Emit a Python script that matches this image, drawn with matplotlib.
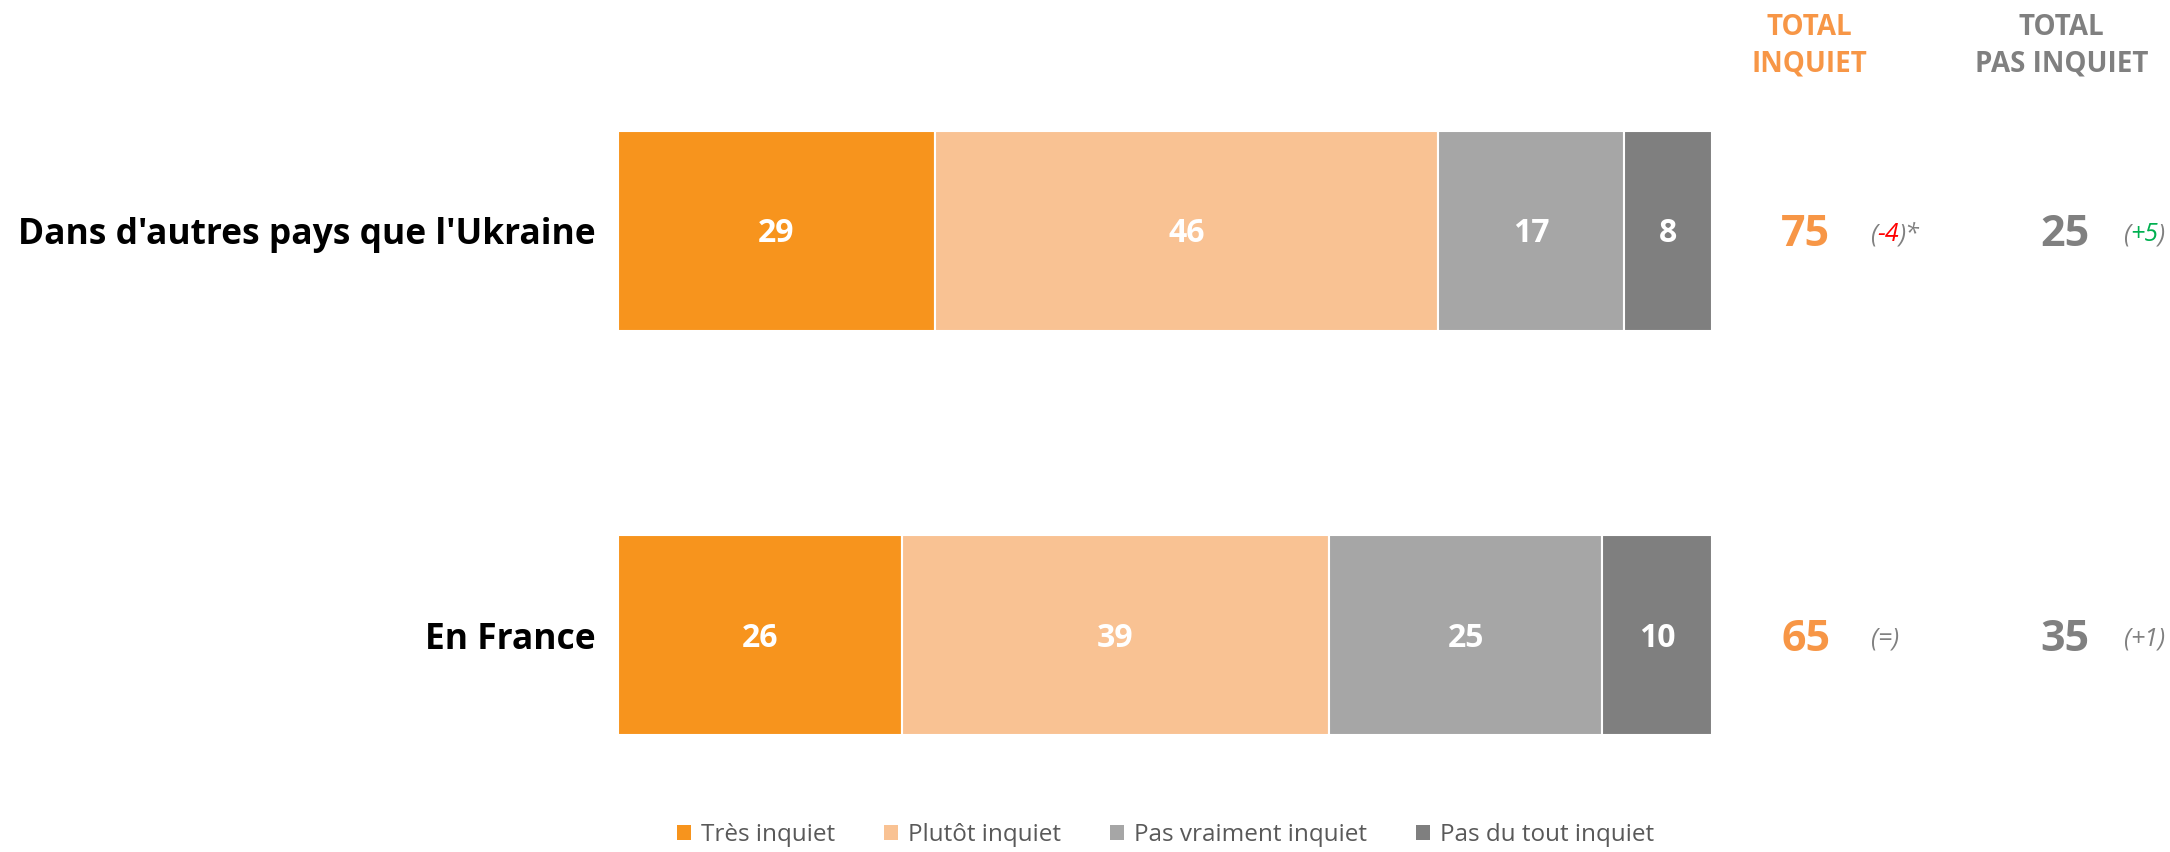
import matplotlib
matplotlib.use('Agg')
from matplotlib import pyplot as plt
from matplotlib.patches import Patch

plt.rcParams['font.family'] = ['Open Sans', 'DejaVu Sans']

categories = ["Dans d'autres pays que l'Ukraine", "En France"]
series_names = ['Très inquiet', 'Plutôt inquiet', 'Pas vraiment inquiet', 'Pas du tout inquiet']
tres_inquiet = [29, 26]
plutot_inquiet = [46, 39]
pas_vraiment = [17, 25]
pas_du_tout = [8, 10]
total_inquiet = [75, 65]
total_pas_inquiet = [25, 35]
evol_inquiet = ['-4', '=']
evol_pas_inquiet = ['+5', '+1']
evol_suffix = ['*', '']

COLORS = ['#F7941D', '#F9C293', '#A6A6A6', '#7F7F7F']
ORANGE_TXT = '#F79646'
GRAY_TXT = '#808080'
EVOL_COL = {'-4': '#FF0000', '+5': '#00B050', '=': GRAY_TXT, '+1': GRAY_TXT}

fig = plt.figure(figsize=(21.7, 8.52), dpi=100)
ax = fig.add_axes([0.28465, 0.01737, 0.50415, 0.9491])

series = [tres_inquiet, plutot_inquiet, pas_vraiment, pas_du_tout]
ypos = list(range(len(categories)))
left = [0] * len(categories)
for vals, col in zip(series, COLORS):
    ax.barh(ypos, vals, left=left, height=0.495, color=col,
            edgecolor='white', linewidth=1.5)
    for y, v, l in zip(ypos, vals, left):
        ax.text(l + v / 2, y + 0.008, str(v), ha='center', va='center',
                color='white', fontsize=23, fontweight='bold')
    left = [a + b for a, b in zip(left, vals)]

ax.set_xlim(0, 100)
ax.set_ylim(1.5, -0.5)
ax.set_yticks(ypos)
ax.set_yticklabels(categories, fontsize=25.5, fontweight='bold', color='black')
ax.tick_params(axis='y', length=0, pad=16)
ax.set_xticks([])
for s in ax.spines.values():
    s.set_visible(False)


def evol_label(x, y, val, suffix):
    t1 = ax.text(x, y, '(', ha='left', va='center', color=GRAY_TXT,
                 fontsize=18, style='italic', clip_on=False)
    t2 = ax.annotate(val, xy=(1, 0), xycoords=t1, va='bottom', ha='left',
                     color=EVOL_COL[val], fontsize=18, style='italic')
    ax.annotate(')' + suffix, xy=(1, 0), xycoords=t2, va='bottom', ha='left',
                color=GRAY_TXT, fontsize=18, style='italic')


for y in ypos:
    ax.text(108.6, y + 0.01, str(total_inquiet[y]), ha='center', va='center',
            color=ORANGE_TXT, fontsize=31, fontweight='bold', clip_on=False)
    ax.text(132.3, y + 0.01, str(total_pas_inquiet[y]), ha='center', va='center',
            color=GRAY_TXT, fontsize=31, fontweight='bold', clip_on=False)
    evol_label(114.5, y + 0.01, evol_inquiet[y], evol_suffix[y])
    evol_label(137.6, y + 0.01, evol_pas_inquiet[y], '')

ax.text(108.9, -0.457, 'TOTAL\nINQUIET', ha='center', va='center',
        color=ORANGE_TXT, fontsize=20, fontweight='bold', linespacing=1.35,
        clip_on=False)
ax.text(132.0, -0.457, 'TOTAL\nPAS INQUIET', ha='center', va='center',
        color=GRAY_TXT, fontsize=20, fontweight='bold', linespacing=1.35,
        clip_on=False)

handles = [Patch(facecolor=c, edgecolor='none') for c in COLORS]
fig.legend(handles, series_names, loc='center', bbox_to_anchor=(0.537, 0.02),
           ncol=4, frameon=False, fontsize=17.5, labelcolor='#595959',
           handlelength=0.6, handleheight=0.6, handletextpad=0.4,
           columnspacing=2.0, borderpad=0.1)

fig.savefig('out.png', dpi=100, facecolor='white')
